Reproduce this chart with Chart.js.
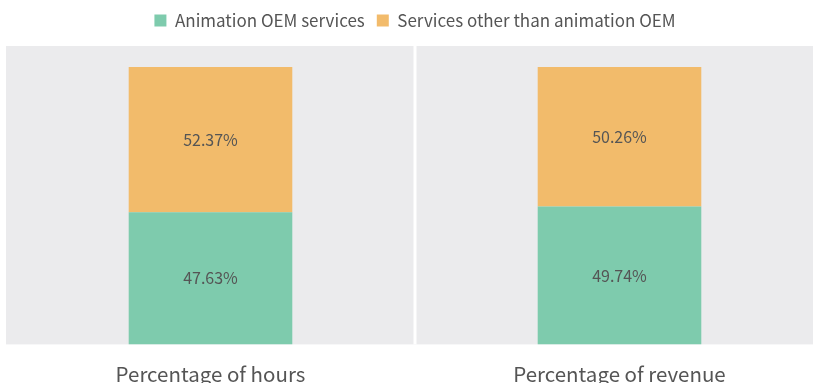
<!DOCTYPE html>
<html>
<head>
<meta charset="utf-8">
<script src="https://cdn.jsdelivr.net/npm/chart.js@4.4.0/dist/chart.umd.min.js"></script>
<style>
  html, body { margin: 0; padding: 0; background: #fff; overflow: hidden; }
  #wrap { width: 828px; height: 397px; position: relative; }
</style>
</head>
<body>
<div id="wrap"><canvas id="shareChart"></canvas></div>
<script>
const categories = ["Percentage of hours", "Percentage of revenue"];
const oemShare = [47.63, 49.74];
const otherShare = [52.37, 50.26];
const seriesNames = ["Animation OEM services", "Services other than animation OEM"];

const FONT = "'Noto Sans CJK SC', 'Noto Sans', sans-serif";
const TEXT = "#555555";

// grey panel behind each category, split by a white gap
const panelBackground = {
  id: "panelBackground",
  beforeDatasetsDraw(chart) {
    const { ctx, chartArea } = chart;
    const x = chart.scales.x;
    ctx.save();
    ctx.fillStyle = "#ebebed";
    ctx.fillRect(chartArea.left, chartArea.top, chartArea.right - chartArea.left, chartArea.bottom - chartArea.top);
    ctx.fillStyle = "#ffffff";
    for (let i = 1; i < categories.length; i++) {
      const mid = (x.getPixelForValue(i - 1) + x.getPixelForValue(i)) / 2;
      ctx.fillRect(mid - 1.5, chartArea.top, 3, chartArea.bottom - chartArea.top);
    }
    ctx.restore();
  }
};

// extra room under the legend
const legendGap = {
  id: "legendGap",
  beforeInit(chart) {
    const fit = chart.legend.fit;
    chart.legend.fit = function () {
      fit.call(this);
      this.height += 7;
    };
  }
};

// percentage text in the middle of each segment
const segmentLabels = {
  id: "segmentLabels",
  afterDatasetsDraw(chart) {
    const { ctx } = chart;
    ctx.save();
    ctx.font = "16px " + FONT;
    ctx.fillStyle = TEXT;
    ctx.textAlign = "center";
    ctx.textBaseline = "middle";
    chart.data.datasets.forEach((ds, di) => {
      chart.getDatasetMeta(di).data.forEach((bar, i) => {
        const mid = (bar.y + bar.base) / 2;
        ctx.fillText(ds.data[i].toFixed(2) + "%", bar.x, mid);
      });
    });
    ctx.restore();
  }
};

new Chart(document.getElementById("shareChart"), {
  type: "bar",
  data: {
    labels: categories,
    datasets: [
      { label: seriesNames[0], data: oemShare, backgroundColor: "#7ecbad" },
      { label: seriesNames[1], data: otherShare, backgroundColor: "#f2bb6b" }
    ]
  },
  options: {
    responsive: true,
    maintainAspectRatio: false,
    animation: false,
    layout: { padding: { left: 6, right: 4, top: 0, bottom: 0 } },
    datasets: { bar: { categoryPercentage: 1, barPercentage: 0.4, borderWidth: 0 } },
    plugins: {
      tooltip: { enabled: false },
      legend: {
        position: "top",
        labels: {
          font: { family: FONT, size: 17 },
          color: TEXT,
          boxWidth: 12,
          boxHeight: 12,
          padding: 12
        }
      }
    },
    scales: {
      x: {
        stacked: true,
        grid: { display: false },
        border: { display: false },
        ticks: { font: { family: FONT, size: 20.5 }, color: TEXT, padding: 10 }
      },
      y: {
        stacked: true,
        display: false,
        min: 0,
        max: 107.6
      }
    }
  },
  plugins: [legendGap, panelBackground, segmentLabels]
});
</script>
</body>
</html>
